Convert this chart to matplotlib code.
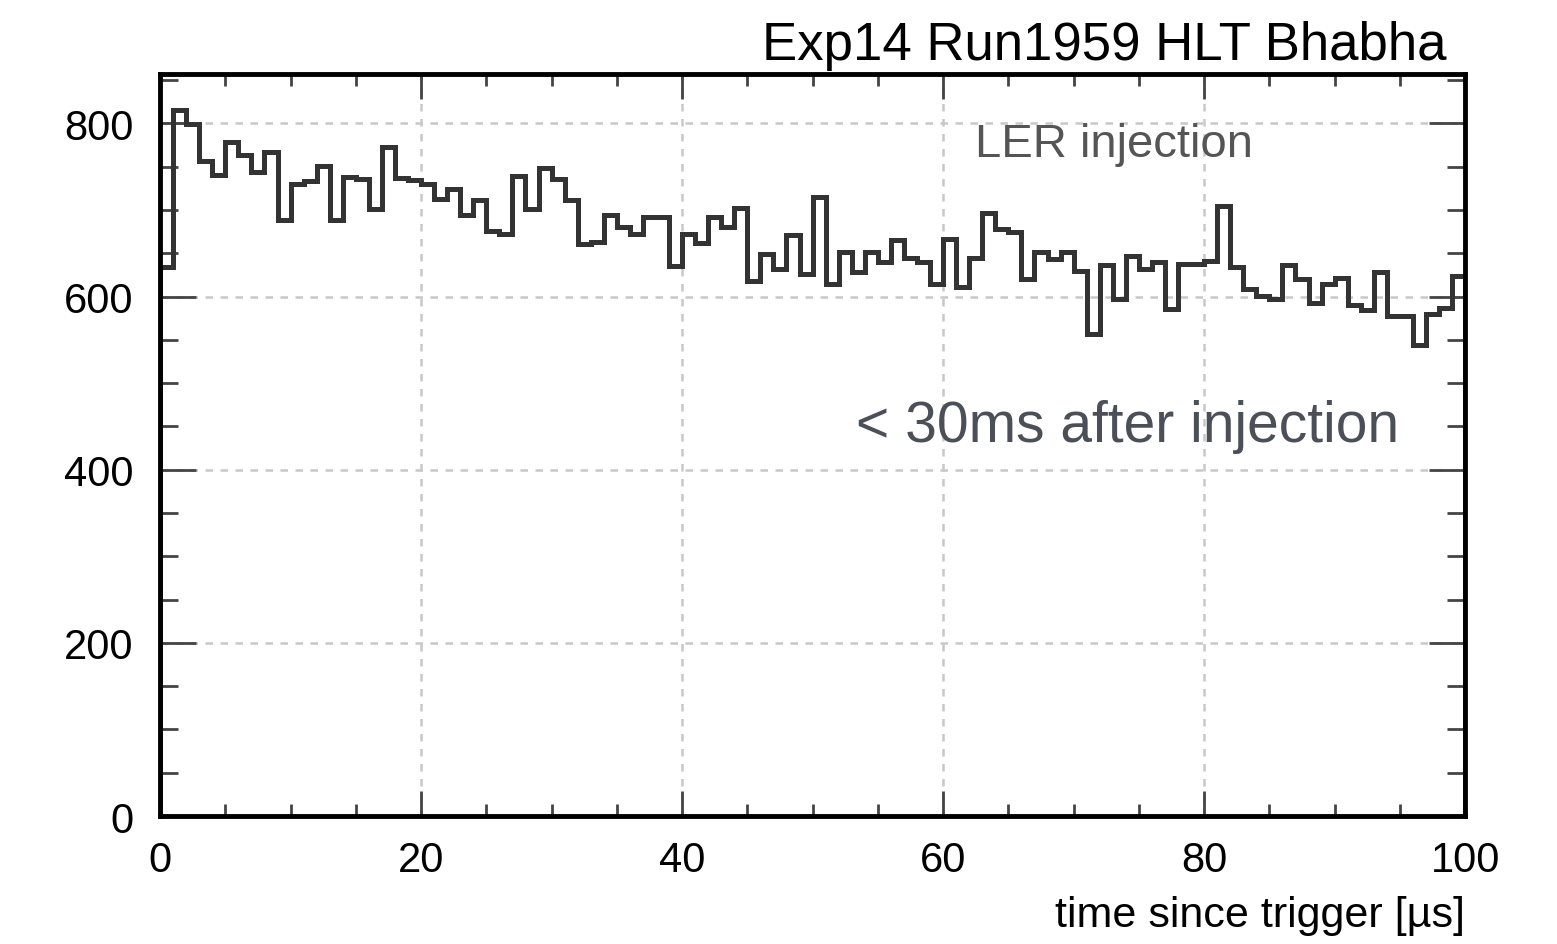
import numpy as np
import matplotlib.pyplot as plt
from matplotlib.ticker import MultipleLocator

plt.rcParams['font.family'] = ['Liberation Sans', 'DejaVu Sans']

# Bhabha event counts per 1 us bin, time since trigger 0..100 us
bin_edges = np.arange(0, 101, 1)
counts = [
    634, 815, 799, 757, 740, 778, 763, 744, 767, 688,
    730, 733, 751, 688, 738, 736, 701, 773, 737, 735,
    730, 713, 724, 694, 711, 676, 672, 739, 701, 748,
    736, 711, 661, 663, 694, 680, 672, 692, 692, 635,
    672, 662, 692, 680, 702, 618, 649, 632, 671, 626,
    715, 615, 651, 628, 651, 640, 665, 644, 640, 615,
    667, 611, 644, 696, 678, 674, 620, 651, 643, 651,
    629, 557, 636, 597, 647, 632, 640, 586, 638, 638,
    641, 705, 634, 609, 601, 597, 636, 620, 593, 615,
    622, 590, 584, 628, 578, 578, 544, 580, 587, 624,
]

title = 'Exp14 Run1959 HLT Bhabha'
xlabel = 'time since trigger [\u00b5s]'
ler_label = 'LER injection'
cut_label = '< 30ms after injection'

fig = plt.figure(figsize=(15.57, 9.45), dpi=100)
ax = fig.add_axes([0.1028, 0.1354, 0.8382, 0.7852])

ax.stairs(counts, bin_edges, baseline=0, color='#333333', linewidth=3.6, zorder=3)

ax.set_xlim(0, 100)
ax.set_ylim(0, 857)

# ROOT-like frame: ticks inside on all four sides
ax.xaxis.set_major_locator(MultipleLocator(20))
ax.xaxis.set_minor_locator(MultipleLocator(5))
ax.yaxis.set_major_locator(MultipleLocator(200))
ax.yaxis.set_minor_locator(MultipleLocator(50))
ax.tick_params(axis='both', which='both', direction='in', top=True, right=True,
               color='#444444', labelsize=30, labelcolor='black')
ax.tick_params(axis='x', which='major', length=18, width=2, pad=17)
ax.tick_params(axis='x', which='minor', length=8.5, width=2)
ax.tick_params(axis='y', which='major', length=26, width=2, pad=19)
ax.tick_params(axis='y', which='minor', length=13, width=2)

for sp in ax.spines.values():
    sp.set_linewidth(3.5)
    sp.set_color('black')
    sp.set_zorder(4)

ax.grid(True, which='major', color='#c8c8c8', linestyle=(0, (3, 3)), linewidth=1.8)
ax.set_axisbelow(True)

ax.set_xlabel(xlabel, fontsize=31, loc='right', labelpad=11)

fig.text(0.929, 0.9365, title, fontsize=38, ha='right', va='baseline')
ax.text(62.45, 762, ler_label, fontsize=34, color='#555555', va='baseline')
ax.text(53.3, 433, cut_label, fontsize=41, color='#4b5058', va='baseline')

fig.savefig('out.png', dpi=100)
